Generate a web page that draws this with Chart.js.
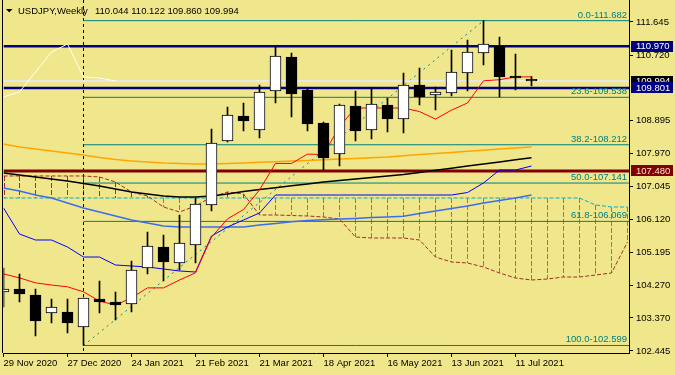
<!DOCTYPE html>
<html>
<head>
<meta charset="utf-8">
<script src="https://cdn.jsdelivr.net/npm/chart.js@4.4.1/dist/chart.umd.min.js"></script>
<style>
  html, body { margin: 0; padding: 0; background: #f0e68c; }
  canvas { display: block; }
</style>
</head>
<body>
<canvas id="chart" width="675" height="375"></canvas>
<script>
// weekly USDJPY, 29 Nov 2020 .. 18 Jul 2021
const symbolTitle = 'USDJPY,Weekly';
const dateLabels = ['29 Nov 2020', '27 Dec 2020', '24 Jan 2021', '21 Feb 2021', '21 Mar 2021',
  '18 Apr 2021', '16 May 2021', '13 Jun 2021', '11 Jul 2021'];
const dateTickIdx = [0, 4, 8, 12, 16, 20, 24, 28, 32];
const yearStartIdx = 5;

const opens  = [104.095, 104.178, 104.011, 103.507, 103.535, 103.116, 103.899, 103.815, 103.759, 104.766, 105.353, 104.906, 105.409, 106.527, 108.317, 109.016, 108.625, 109.716, 110.666, 109.743, 108.821, 107.954, 109.296, 108.625, 109.324, 108.932, 109.883, 109.604, 109.660, 110.219, 110.778, 110.974, 110.135, 110.044];
const highs  = [104.766, 104.598, 104.178, 103.899, 103.899, 103.927, 104.402, 104.095, 104.962, 105.773, 105.689, 106.248, 106.723, 108.653, 109.268, 109.380, 109.883, 110.974, 110.778, 109.799, 108.849, 109.352, 109.716, 109.799, 109.520, 110.219, 110.359, 109.827, 110.862, 111.142, 111.682, 111.226, 110.750, 110.122];
const lows   = [103.675, 103.815, 102.864, 103.228, 102.948, 102.599, 103.507, 103.311, 103.535, 104.598, 104.402, 104.710, 104.906, 106.360, 108.289, 108.597, 108.401, 109.380, 108.988, 108.597, 107.506, 107.618, 108.317, 108.373, 108.569, 108.541, 109.324, 109.184, 109.576, 109.716, 110.443, 109.548, 109.743, 109.860];
const closes = [104.178, 104.039, 103.284, 103.675, 103.228, 103.927, 103.815, 103.731, 104.710, 105.381, 104.934, 105.465, 106.555, 108.261, 109.044, 108.877, 109.688, 110.694, 109.632, 108.793, 107.842, 109.324, 108.597, 109.352, 108.932, 109.883, 109.548, 109.688, 110.247, 110.806, 111.030, 110.107, 110.079, 109.994];

// ichimoku
const tenkan = [104.60, 104.49, 104.35, 104.29, 104.24, 104.10, 103.84, 103.73, 103.93, 104.21, 104.21, 104.43, 104.63, 105.63, 106.14, 106.40, 106.95, 107.69, 107.69, 107.95, 107.94, 108.72, 109.24, 109.24, 109.24, 109.24, 109.14, 108.93, 109.18, 109.38, 110.00, 110.03, 110.11, 110.11];
const kijun = [106.444, 105.717, 105.549, 105.549, 105.353, 105.073, 105.073, 104.850, 104.822, 104.794, 104.738, 104.682, 104.654, 105.661, 105.912, 106.108, 106.304, 106.807, 106.807, 106.807, 106.807, 106.807, 106.807, 106.807, 106.807, 106.807, 106.807, 106.807, 106.807, 106.877, 107.143, 107.506, 107.506, 107.618];
const chikou = [109.548, 109.688, 110.247, 110.806, 111.030, 110.107, 110.079, 109.994];
const spanA = [107.339, 107.339, 107.339, 107.339, 107.339, 107.339, 107.311, 107.171, 106.891, 106.779, 106.472, 106.332, 106.500, 106.751, 106.891, 106.835, 106.248, 106.248, 106.234, 106.220, 106.192, 106.136, 105.632, 105.605, 105.605, 105.605, 105.549, 105.073, 104.934, 104.906, 104.794, 104.626, 104.486, 104.430, 104.458, 104.514, 104.514, 104.570, 104.626, 105.493];
const spanB = [106.723, 106.723, 106.723, 106.723, 106.723, 106.723, 106.723, 106.723, 106.723, 106.723, 106.723, 106.723, 106.723, 106.723, 106.723, 106.723, 106.723, 106.723, 106.723, 106.723, 106.723, 106.723, 106.723, 106.723, 106.723, 106.723, 106.723, 106.723, 106.723, 106.723, 106.723, 106.723, 106.723, 106.723, 106.723, 106.723, 106.723, 106.528, 106.472, 106.472];

// moving averages
const maOrange = [108.233, 108.150, 108.094, 108.038, 107.982, 107.926, 107.856, 107.800, 107.758, 107.730, 107.702, 107.688, 107.674, 107.674, 107.688, 107.702, 107.720, 107.738, 107.758, 107.775, 107.794, 107.811, 107.831, 107.848, 107.867, 107.906, 107.937, 107.968, 107.999, 108.030, 108.060, 108.091, 108.122, 108.150];
const maBlack = [107.422, 107.367, 107.311, 107.255, 107.199, 107.129, 107.059, 106.975, 106.891, 106.835, 106.779, 106.751, 106.751, 106.779, 106.835, 106.905, 106.958, 107.011, 107.065, 107.118, 107.168, 107.210, 107.252, 107.294, 107.339, 107.381, 107.439, 107.498, 107.557, 107.615, 107.674, 107.730, 107.792, 107.850];
const maBlue = [107.003, 106.919, 106.807, 106.723, 106.583, 106.444, 106.332, 106.220, 106.108, 106.024, 105.940, 105.912, 105.912, 105.912, 105.912, 105.915, 105.968, 106.013, 106.058, 106.091, 106.114, 106.133, 106.153, 106.175, 106.195, 106.214, 106.290, 106.360, 106.430, 106.500, 106.583, 106.653, 106.723, 106.807];

// horizontal levels
const navyLevels = [110.970, 109.801];
const redLevel = 107.480;
const bidLevel = 109.994;

// fibonacci
const fibRatios = ['0.0', '23.6', '38.2', '50.0', '61.8', '100.0'];
const fibPrices = [111.682, 109.538, 108.212, 107.141, 106.069, 102.599];
const fibStartIdx = 5;
const trendFrom = { x: 5, y: 102.599 };
const trendTo = { x: 30, y: 111.682 };

const yTicks = [111.645, 110.720, 108.895, 107.970, 107.045, 106.120, 105.195, 104.270, 103.370, 102.445];

const X_MAX = 39.094;
const Y_MAX = 112.260;
const Y_MIN = 102.389;
const FONT = '"Liberation Sans", Arial, sans-serif';
const KUMO_UP = '#a0302a';
const KUMO_DOWN = '#00b0c8';

const pts = arr => arr.map((v, i) => ({ x: i, y: v }));

function lineSet(data, color, width, dash, order) {
  return {
    type: 'line', data, borderColor: color, borderWidth: width, borderDash: dash || [],
    pointRadius: 0, fill: false, tension: 0, order
  };
}

function levelSet(value, fromX, color, width, order) {
  return lineSet([{ x: fromX, y: value }, { x: X_MAX, y: value }], color, width, null, order);
}

const overlay = {
  id: 'overlay',
  beforeDatasetsDraw(chart) {
    const { ctx, chartArea: a, scales: { x, y } } = chart;
    ctx.save();
    ctx.beginPath();
    ctx.rect(a.left, a.top, a.right - a.left, a.bottom - a.top);
    ctx.clip();
    ctx.lineWidth = 1;
    ctx.setLineDash([5, 2]);
    for (let i = 0; i < spanA.length; i++) {
      const up = spanA[i] > spanB[i];
      const px = Math.round(x.getPixelForValue(i)) + 0.5;
      const y1 = Math.round(y.getPixelForValue(spanA[i]));
      const y2 = Math.round(y.getPixelForValue(spanB[i]));
      ctx.strokeStyle = up ? KUMO_UP : KUMO_DOWN;
      ctx.beginPath();
      ctx.moveTo(px, Math.min(y1, y2));
      ctx.lineTo(px, Math.max(y1, y2));
      ctx.stroke();
    }
    ctx.strokeStyle = '#000';
    ctx.setLineDash([3, 3]);
    const sx = Math.round(x.getPixelForValue(yearStartIdx)) + 0.5;
    ctx.beginPath();
    ctx.moveTo(sx, a.top);
    ctx.lineTo(sx, a.bottom);
    ctx.stroke();
    ctx.restore();
  },
  afterDraw(chart) {
    const { ctx, chartArea: a, scales: { y } } = chart;
    ctx.save();
    // left frame
    ctx.strokeStyle = '#000';
    ctx.lineWidth = 1;
    ctx.beginPath();
    ctx.moveTo(Math.floor(a.left) - 0.5, a.top);
    ctx.lineTo(Math.floor(a.left) - 0.5, a.bottom);
    ctx.stroke();

    ctx.font = '9.5px ' + FONT;
    // fib labels
    ctx.fillStyle = '#008080';
    ctx.textAlign = 'right';
    ctx.textBaseline = 'alphabetic';
    fibPrices.forEach((p, i) => {
      ctx.fillText(fibRatios[i] + '-' + p.toFixed(3), a.right - 2, y.getPixelForValue(p) - 3);
    });

    // title
    ctx.fillStyle = '#000';
    ctx.beginPath();
    ctx.moveTo(6, 9); ctx.lineTo(12.5, 9); ctx.lineTo(9.25, 12.5); ctx.closePath();
    ctx.fill();
    ctx.textAlign = 'left';
    ctx.textBaseline = 'middle';
    ctx.fillText(symbolTitle, 18, 11);
    const n = opens.length - 1;
    ctx.fillText([opens[n], highs[n], lows[n], closes[n]].map(v => v.toFixed(3)).join(' '), 95, 11);

    // price boxes on the axis
    const boxes = [
      { v: bidLevel, bg: '#000000', fg: '#ffffff' },
      { v: navyLevels[0], bg: '#000080', fg: '#ffffff' },
      { v: navyLevels[1], bg: '#000080', fg: '#ffffff' },
      { v: redLevel, bg: '#800000', fg: '#f5e6c8' }
    ];
    boxes.forEach(b => {
      const yc = y.getPixelForValue(b.v);
      ctx.fillStyle = b.bg;
      ctx.fillRect(631, Math.round(yc - 5.5), 42, 11);
      ctx.fillStyle = b.fg;
      ctx.fillText(b.v.toFixed(3), 636, yc + 0.5);
    });
    ctx.restore();
  }
};

const datasets = [
  {
    type: 'bar', data: opens.map((o, i) => ({ x: i, y: [o, closes[i]] })),
    backgroundColor: opens.map((o, i) => closes[i] >= o ? '#ffffff' : '#000000'),
    borderColor: '#000', borderWidth: 1, borderSkipped: false,
    barThickness: 11, grouped: false, order: 0
  },
  {
    type: 'bar', data: lows.map((l, i) => ({ x: i, y: [l, highs[i]] })),
    backgroundColor: '#000', borderWidth: 0, barThickness: 1, grouped: false, order: 1
  },
  lineSet(pts(tenkan), '#ff0000', 1, null, 2),
  lineSet(pts(kijun), '#0000ff', 1, null, 3),
  lineSet(pts(chikou), '#fffff0', 1, null, 4),
  lineSet(pts(maOrange), '#ffa500', 1.5, null, 5),
  lineSet(pts(maBlack), '#000000', 1.5, null, 5),
  lineSet(pts(maBlue), '#3c6cf0', 1.5, null, 5),
  lineSet(pts(spanA), KUMO_UP, 1, [4, 2], 6),
  lineSet(pts(spanB), KUMO_DOWN, 1, [4, 2], 6),
  levelSet(redLevel, 0, '#800000', 3, 7),
  levelSet(navyLevels[0], 0, '#000080', 2.5, 7),
  levelSet(navyLevels[1], 0, '#000080', 2.5, 7),
  levelSet(bidLevel, 0, '#e8e8e8', 2, 8),
  ...fibPrices.map(p => levelSet(p, fibStartIdx, '#008080', 1, 9)),
  lineSet([trendFrom, trendTo], '#008b8b', 1, [2, 4], 9)
];

new Chart(document.getElementById('chart'), {
  type: 'bar',
  data: { datasets },
  options: {
    responsive: false,
    animation: false,
    layout: { padding: { left: 3.5, top: 0, right: 0, bottom: 0 } },
    plugins: { legend: { display: false }, tooltip: { enabled: false } },
    scales: {
      x: {
        type: 'linear', min: 0, max: X_MAX, offset: false,
        afterBuildTicks: s => { s.ticks = dateTickIdx.map(v => ({ value: v })); },
        afterFit: s => { s.height = 22; s.paddingLeft = 0; s.paddingRight = 0; },
        grid: { drawOnChartArea: false, tickLength: 4, color: '#000', offset: false },
        border: { display: true, color: '#000' },
        ticks: {
          align: 'start', maxRotation: 0, autoSkip: false, padding: 1, color: '#000',
          font: { family: FONT, size: 9.5 },
          callback: (v, i) => dateLabels[i]
        }
      },
      y: {
        position: 'right', min: Y_MIN, max: Y_MAX,
        afterBuildTicks: s => { s.ticks = yTicks.map(v => ({ value: v })); },
        afterFit: s => { s.width = 46; s.paddingTop = 0; s.paddingBottom = 0; },
        grid: { drawOnChartArea: false, tickLength: 4, color: '#000' },
        border: { display: true, color: '#000' },
        ticks: {
          padding: 3, color: '#000', autoSkip: false,
          font: { family: FONT, size: 9.5 },
          callback: v => v.toFixed(3)
        }
      }
    }
  },
  plugins: [overlay]
});
</script>
</body>
</html>
